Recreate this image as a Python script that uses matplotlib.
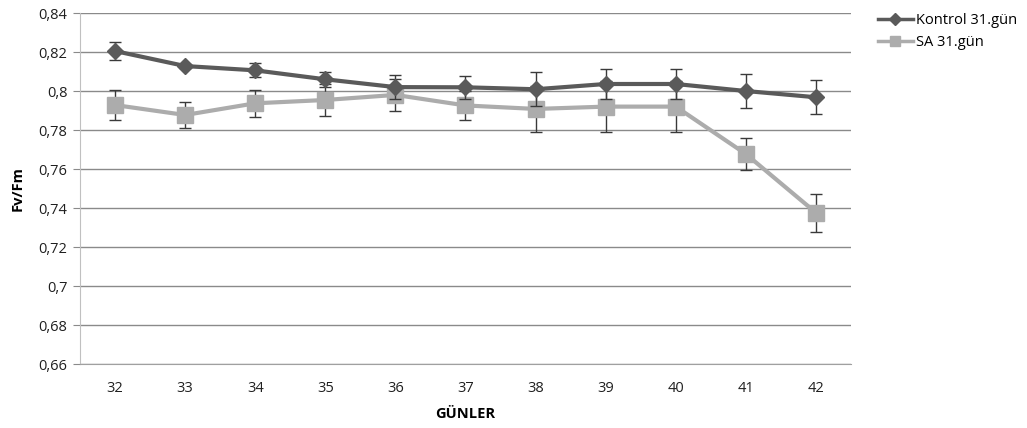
import matplotlib
matplotlib.use("Agg")
import matplotlib.pyplot as plt
from matplotlib.lines import Line2D
import numpy as np

days = [32, 33, 34, 35, 36, 37, 38, 39, 40, 41, 42]
kontrol = [0.8205, 0.8128, 0.8106, 0.8060, 0.8020, 0.8019, 0.8009, 0.8036, 0.8036, 0.8000, 0.7968]
kontrol_err = [0.0047, 0.0010, 0.0036, 0.0040, 0.0060, 0.0060, 0.0087, 0.0079, 0.0079, 0.0087, 0.0087]
sa = [0.7928, 0.7877, 0.7937, 0.7954, 0.7980, 0.7926, 0.7908, 0.7920, 0.7920, 0.7677, 0.7376]
sa_err = [0.0075, 0.0065, 0.0070, 0.0082, 0.0080, 0.0075, 0.0118, 0.0130, 0.0130, 0.0083, 0.0098]
yticks = [0.66, 0.68, 0.70, 0.72, 0.74, 0.76, 0.78, 0.80, 0.82, 0.84]
ytick_labels = ["0,66", "0,68", "0,7", "0,72", "0,74", "0,76", "0,78", "0,8", "0,82", "0,84"]

plt.rcParams['font.family'] = ['Open Sans', 'DejaVu Sans']

fig = plt.figure(figsize=(10.27, 4.28), dpi=100)
ax = fig.add_axes([0.0779, 0.1495, 0.7507, 0.8201])

x = np.arange(len(days))
c_k = '#5a5a5a'
c_s = '#acacac'

ax.errorbar(x, sa, yerr=sa_err, color=c_s, lw=3, marker='s', ms=11,
            mfc=c_s, mec=c_s, ecolor='#3a3a3a', elinewidth=1, capsize=4.5, capthick=1,
            zorder=3)
ax.errorbar(x, kontrol, yerr=kontrol_err, color=c_k, lw=3, marker='D', ms=8,
            mfc=c_k, mec=c_k, ecolor='#3a3a3a', elinewidth=1, capsize=4.5, capthick=1,
            zorder=4)

ax.set_xlim(-0.5, len(days) - 0.5)
ax.set_ylim(0.66, 0.84)
ax.set_xticks(x)
ax.set_xticklabels([str(d) for d in days])
ax.set_yticks(yticks)
ax.set_yticklabels(ytick_labels)
ax.grid(axis='y', color='#8a8a8a', lw=1)
ax.set_axisbelow(True)
for s in ['top', 'right']:
    ax.spines[s].set_visible(False)
ax.spines['left'].set_color('#c0c0c0')
ax.spines['bottom'].set_color('#a0a0a0')
ax.tick_params(axis='x', length=0, pad=12, labelsize=10.5, colors='#202020')
ax.tick_params(axis='y', length=5, color='#8a8a8a', labelsize=10.5, colors='#202020', pad=4)

ax.set_ylabel('Fv/Fm', fontsize=10.5, fontweight='bold', labelpad=10)
ax.set_xlabel('GÜNLER', fontsize=10.5, fontweight='bold', labelpad=8)

handles = [
    Line2D([], [], color=c_k, lw=2.5, marker='D', ms=6, mfc=c_k, mec=c_k),
    Line2D([], [], color=c_s, lw=2.5, marker='s', ms=7, mfc=c_s, mec=c_s),
]
labels = ['Kontrol 31.gün', 'SA 31.gün']
fig.legend(handles, labels, loc='upper left', bbox_to_anchor=(0.842, 1.0),
           frameon=False, fontsize=10.5, handlelength=2.4, handletextpad=0.2,
           labelspacing=0.5)

fig.savefig('out.png', dpi=100)
